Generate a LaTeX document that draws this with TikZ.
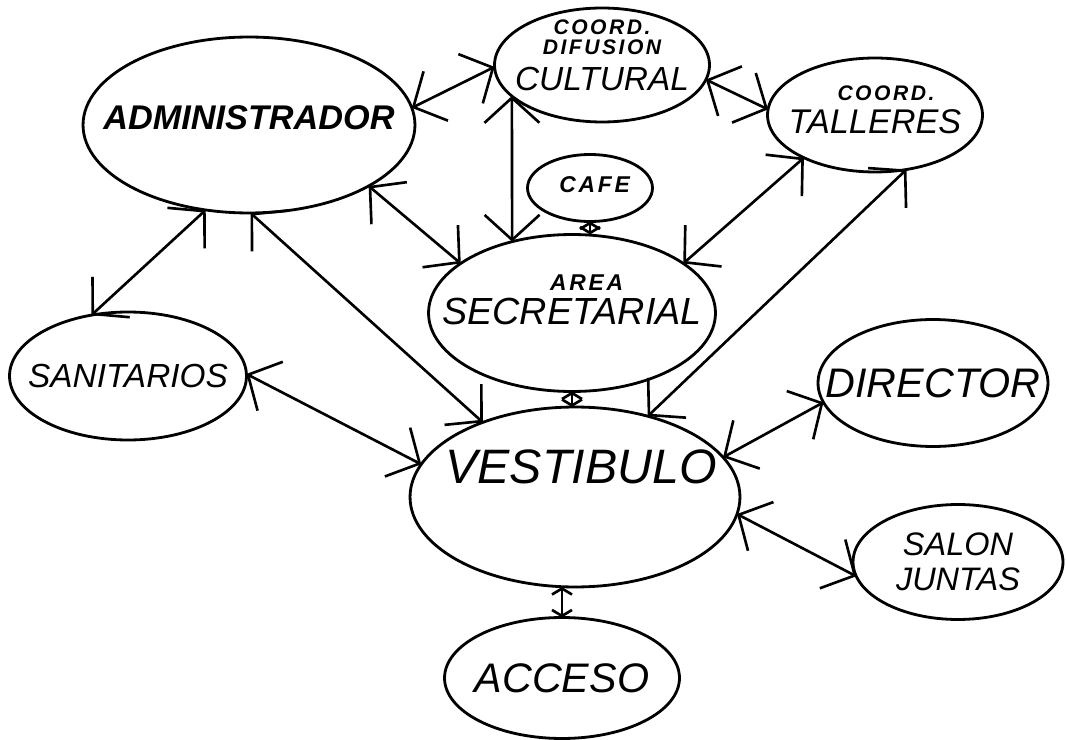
\documentclass[tikz,border=0pt]{standalone}
\usepackage{fontspec}
\setmainfont{Liberation Sans}
\newfontfamily\spacedfont[LetterSpace=12]{Liberation Sans}
\usetikzlibrary{shapes.geometric, arrows.meta}

\newcommand{\tinylbl}{\spacedfont\bfseries\itshape\fontsize{12}{12}\selectfont}
\newcommand{\lblsize}[1]{\fontsize{#1}{#1}\selectfont}

\begin{document}
\begin{tikzpicture}[
  x=0.02cm, y=-0.02cm,
  bubble/.style={ellipse, draw, line width=1.6pt, inner sep=0pt, outer sep=0pt},
  txt/.style={inner sep=0pt, align=center, font=\itshape},
  link/.style={<->, >={Straight Barb[length=5mm, width=11mm]}, line width=1.5pt},
  shortlink/.style={<->, >={Straight Barb[length=1.2mm, width=4mm]}, line width=1.5pt}
]
\useasboundingbox (0,0) rectangle (1066,740);

% Bubbles
\node[bubble, minimum width=6.64cm, minimum height=3.52cm] (admin) at (249,125) {};
\node[bubble, minimum width=4.3cm, minimum height=2.28cm] (cult) at (602,65) {};
\node[bubble, minimum width=4.3cm, minimum height=2.28cm] (tall) at (875,115) {};
\node[bubble, minimum width=2.5cm, minimum height=1.34cm] (cafe) at (590,188) {};
\node[bubble, minimum width=5.74cm, minimum height=3.14cm] (secr) at (572,313) {};
\node[bubble, minimum width=4.74cm, minimum height=2.56cm] (sani) at (128,376) {};
\node[bubble, minimum width=4.6cm, minimum height=2.54cm] (dir) at (933,383) {};
\node[bubble, minimum width=6.6cm, minimum height=3.6cm] (vest) at (575,497) {};
\node[bubble, minimum width=4.2cm, minimum height=2.3cm] (salon) at (958,562) {};
\node[bubble, minimum width=4.7cm, minimum height=2.42cm] (acc) at (562,678) {};

% Labels
\node[txt, font=\lblsize{19.5}\bfseries\itshape, yshift=0.14cm] (admin-t) at (admin) {ADMINISTRADOR};
\node[txt, font=\fontsize{11}{11.3}\selectfont, yshift=0.19cm] (cult-t) at (cult)
  {{\tinylbl COORD.}\\{\tinylbl DIFUSION}\\[6pt]{\lblsize{19}\itshape CULTURAL}};
\node[txt, font=\fontsize{11}{18.6}\selectfont, yshift=0.1cm] (tall-t) at (tall)
  {\hspace*{0.44cm}{\tinylbl COORD.}\\{\lblsize{19.5}\itshape TALLERES}};
\node[txt, font=\fontsize{11}{19.4}\selectfont, yshift=0.26cm] (secr-t) at (secr)
  {\hspace*{0.4cm}{\tinylbl\lblsize{13} AREA}\\{\lblsize{21.5}\itshape SECRETARIAL}};
\node[txt, font=\lblsize{13}, yshift=0.06cm] (cafe-t) at (cafe) {\tinylbl\lblsize{13} CAFE};
\node[txt, font=\lblsize{19}\itshape] (sani-t) at (sani) {SANITARIOS};
\node[txt, font=\lblsize{23.5}\itshape] (dir-t) at (dir) {DIRECTOR};
\node[txt, font=\lblsize{27.5}\itshape, yshift=0.6cm, xshift=0.12cm] (vest-t) at (vest) {VESTIBULO};
\node[txt, font=\fontsize{18.5}{19.8}\selectfont\itshape] (salon-t) at (salon) {SALON\\JUNTAS};
\node[txt, font=\lblsize{23.5}\itshape] (acc-t) at (acc) {ACCESO};

% Connections
\draw[link] (admin.6) -- (cult.181);
\draw[link] (cult.-8) -- (tall.177);
\draw[link] (cult.199) -- (secr.130);
\draw[link] (admin.-27) -- (secr.156);
\draw[link] (tall.211) -- (secr.24);
\draw[link] (tall.-60) -- (vest.48);
\draw[link] (admin.-117) -- (sani.121);
\draw[link] (admin.-89) -- (vest.141);
\draw[link] (sani.1) -- (vest.168);
\draw[link] (dir.190) -- (vest.15);
\draw[link] (salon.188) -- (vest.-6);
\draw[shortlink] (cafe.south) -- (cafe.south |- secr.north);
\draw[shortlink] (secr.south) -- (secr.south |- vest.north);
\draw[shortlink] (acc.north) -- (acc.north |- vest.south);

\end{tikzpicture}
\end{document}
